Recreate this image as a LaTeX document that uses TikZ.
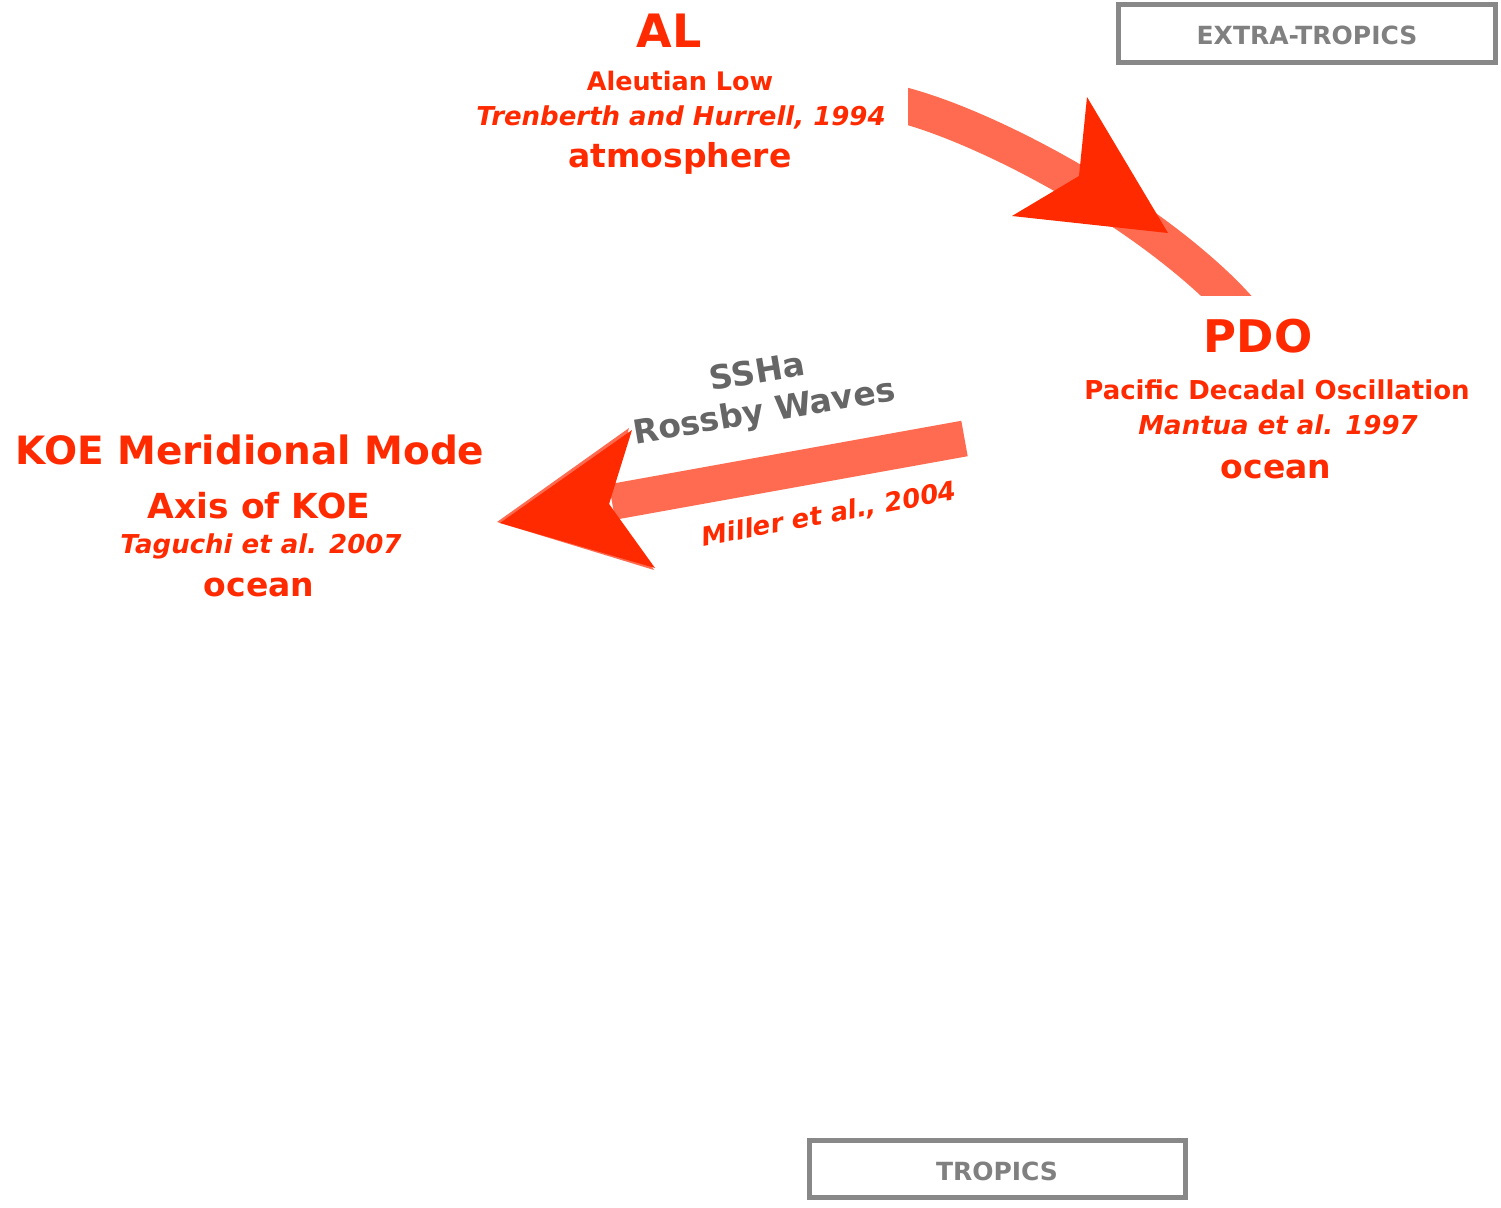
\documentclass[tikz,border=0pt]{standalone}
\usepackage{fontspec}
\setmainfont{DejaVu Sans}
\definecolor{koered}{HTML}{FF2A00}
\definecolor{shaftred}{HTML}{FF6B50}
\definecolor{labelgray}{HTML}{666666}
\definecolor{boxgray}{HTML}{888888}
\definecolor{boxtext}{HTML}{808080}
\begin{document}
\begin{tikzpicture}[x=1pt,y=-1pt,
  every node/.style={inner sep=0pt, outer sep=0pt},
  txt/.style={font=\bfseries\fontsize{#1}{#1}\selectfont, text=koered, anchor=base},
  cite/.style={font=\bfseries\itshape\fontsize{#1}{#1}\selectfont, text=koered, anchor=base},
  graylbl/.style={font=\bfseries\fontsize{#1}{40}\selectfont, text=labelgray, align=center},
  regionbox/.style={draw=boxgray, line width=5pt},
  regiontext/.style={font=\bfseries\fontsize{25}{25}\selectfont, text=boxtext},
  shaft/.style={draw=shaftred, line width=36pt},
  headfill/.style={fill=koered},
  headshadow/.style={fill=shaftred}]
\useasboundingbox (0,0) rectangle (1501,1207);

% region boxes
\draw[regionbox] (1118.5,4.5) rectangle (1495.5,62.5);
\node[regiontext] (extra) at (1307,35) {EXTRA-TROPICS};
\draw[regionbox] (809,1140.5) rectangle (1185.5,1197.5);
\node[regiontext] (tropics) at (997,1171) {TROPICS};

% AL block
\node[txt=46] (al) at (669,48) {AL};
\node[txt=25.5] (aleut) at (680,90) {Aleutian Low};
\node[cite=26] (tren) at (681,125) {Trenberth and Hurrell, 1994};
\node[txt=33] (atm) at (680,167) {atmosphere};

% PDO block
\node[txt=45] (pdo) at (1258,352) {PDO};
\node[txt=26] (pacific) at (1277,399) {Pacific Decadal Oscillation};
\node[cite=26] (mantua) at (1278,434) {Mantua et al. 1997};
\node[txt=33] (ocean1) at (1276,478) {ocean};

% KOE block
\node[txt=39] (koe) at (250,464) {KOE Meridional Mode};
\node[txt=34.5] (axis) at (259,518) {Axis of KOE};
\node[cite=26] (taguchi) at (261,553) {Taguchi et al. 2007};
\node[txt=33] (ocean2) at (259,596) {ocean};

% curved arrow AL -> PDO
\coordinate (cA) at (890.7,101.6);
\coordinate (cB) at (908,106.5);
\coordinate (cC) at (990,129.5);
\coordinate (cD) at (1137,206);
\coordinate (cE) at (1227,296);
\coordinate (cF) at (1241,311);
\begin{scope}
  \clip (908,0) rectangle (1320,295);
  \draw[shaft] (cA) -- (cB) .. controls (cC) and (cD) .. (cE) -- (cF);
\end{scope}
\coordinate (h1tip) at (1168,233);
\coordinate (h1a) at (1087,97);
\coordinate (h1n) at (1079,176);
\coordinate (h1b) at (1012,216);
\fill[headfill] (h1tip) -- (h1a) -- (h1n) -- (h1b) -- cycle;

% straight arrow PDO -> KOE
\coordinate (sR) at (964.5,438.5);
\coordinate (sL) at (612,502);
\draw[shaft] (sR) -- (sL);
\coordinate (h2tip) at (500,523);
\coordinate (h2a) at (632,430);
\coordinate (h2n) at (609,504);
\coordinate (h2b) at (655,568);
\coordinate (h2tipS) at (497,522);
\coordinate (h2aS) at (629,428);
\coordinate (h2bS) at (654,570);
\fill[headshadow] (h2tipS) -- (h2aS) -- (h2n) -- (h2bS) -- cycle;
\fill[headfill] (h2tip) -- (h2a) -- (h2n) -- (h2b) -- cycle;

% labels on straight arrow
\node[graylbl=33, rotate=9.5] (rossby) at (761,394) {SSHa\\Rossby Waves};
\node[font=\bfseries\itshape\fontsize{26}{26}\selectfont, text=koered, rotate=10.5] (miller) at (829,515) {Miller et al., 2004};
\end{tikzpicture}
\end{document}
